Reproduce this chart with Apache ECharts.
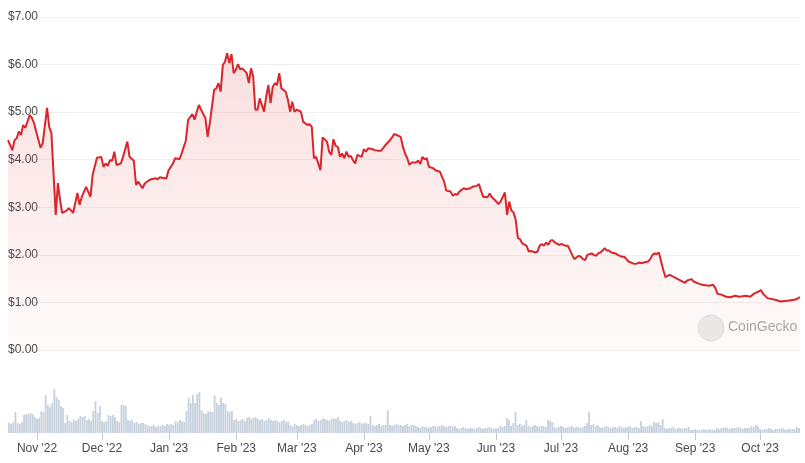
<!DOCTYPE html>
<html>
<head>
<meta charset="utf-8">
<script src="https://cdn.jsdelivr.net/npm/echarts@6/dist/echarts.min.js"></script>
<style>
  html, body { margin: 0; padding: 0; background: #fff; }
  #chart { width: 805px; height: 463px; }
</style>
</head>
<body>
<div id="chart"></div>
<script>
// first day of the chart, every other date is counted from here
const startYear = 2022, startMonth = 9, startDay = 19; // 19 Oct 2022

// price readings: day number from start -> price in USD
const priceDays = [
  0, 2, 3, 4, 5, 6, 7, 8, 10, 11, 12, 13, 15, 16, 18, 19, 20, 22, 23, 24,
  25, 27, 28, 29, 30, 32, 33, 34, 36, 38, 39, 41, 43, 44, 45, 46, 47, 48, 49, 50,
  52, 53, 55, 56, 58, 59, 60, 61, 62, 63, 65, 66, 68, 69, 70, 72, 73, 74, 76, 77,
  79, 80, 82, 83, 85, 86, 87, 88, 89, 91, 92, 93, 95, 96, 97, 98, 99, 100, 101, 102,
  103, 104, 105, 106, 107, 108, 110, 111, 112, 113, 114, 115, 116, 118, 119, 120, 121, 122, 123, 124,
  125, 126, 128, 129, 130, 131, 132, 133, 135, 136, 138, 139, 140, 141, 142, 144, 145, 147, 148, 149,
  150, 151, 152, 153, 154, 155, 156, 157, 158, 159, 160, 161, 163, 164, 165, 166, 168, 169, 171, 172,
  174, 176, 177, 178, 180, 181, 182, 183, 184, 185, 186, 188, 189, 190, 191, 192, 193, 194, 196, 197,
  199, 201, 202, 204, 205, 206, 207, 208, 210, 211, 213, 214, 216, 217, 218, 219, 221, 222, 223, 224,
  226, 227, 229, 230, 231, 232, 233, 234, 235, 236, 237, 239, 240, 241, 243, 244, 245, 246, 247, 248,
  249, 250, 251, 252, 254, 255, 256, 257, 258, 259, 260, 261, 263, 264, 265, 266, 267, 269, 270, 271,
  272, 273, 274, 275, 276, 277, 278, 280, 281, 282, 283, 284, 285, 286, 288, 289, 290, 291, 292, 293,
  295, 296, 297, 298, 299, 300, 301, 302, 303, 304, 305, 307, 310, 312, 313, 315, 316, 318, 320, 323,
  325, 326, 327, 329, 331, 333, 335, 337, 340, 342, 344, 346, 347, 348, 350, 353, 354, 356, 358, 360,
  363, 365
];
const prices = [
  4.41, 4.20, 4.41, 4.45, 4.59, 4.52, 4.73, 4.67, 4.94, 4.88, 4.77, 4.59, 4.25, 4.35, 5.09, 4.69, 4.56, 2.84, 3.51, 3.15,
  2.88, 2.93, 2.98, 2.94, 2.88, 3.30, 3.05, 3.22, 3.43, 3.22, 3.68, 4.04, 4.06, 3.85, 3.92, 3.87, 3.99, 3.98, 4.17, 3.89,
  3.92, 4.06, 4.38, 4.06, 3.98, 3.47, 3.54, 3.47, 3.40, 3.50, 3.57, 3.59, 3.61, 3.59, 3.63, 3.61, 3.61, 3.78, 3.92, 4.03,
  4.01, 4.13, 4.41, 4.84, 4.96, 4.84, 5.01, 5.15, 5.05, 4.87, 4.48, 4.77, 5.47, 5.50, 5.61, 5.43, 5.99, 6.06, 6.24, 6.03,
  6.22, 5.82, 5.89, 6.01, 5.90, 5.92, 5.82, 5.61, 5.92, 5.75, 5.05, 5.05, 5.29, 5.01, 5.33, 5.57, 5.19, 5.53, 5.61, 5.57,
  5.82, 5.50, 5.43, 5.26, 5.01, 5.22, 5.01, 5.05, 5.01, 4.80, 4.73, 4.75, 4.69, 4.03, 4.06, 3.78, 4.47, 4.38, 4.17, 4.10,
  4.43, 4.29, 4.27, 4.06, 4.13, 4.03, 4.17, 4.06, 4.08, 3.99, 3.92, 4.10, 4.06, 4.22, 4.17, 4.24, 4.22, 4.20, 4.19, 4.19,
  4.31, 4.41, 4.47, 4.54, 4.50, 4.48, 4.27, 4.13, 4.03, 3.89, 3.94, 3.94, 3.98, 3.91, 4.06, 4.01, 4.03, 3.85, 3.82, 3.78,
  3.75, 3.54, 3.35, 3.33, 3.24, 3.28, 3.26, 3.33, 3.40, 3.38, 3.40, 3.43, 3.45, 3.49, 3.35, 3.22, 3.21, 3.29, 3.21, 3.17,
  3.07, 3.12, 3.31, 2.84, 3.12, 2.93, 2.89, 2.73, 2.35, 2.33, 2.24, 2.19, 2.07, 2.08, 2.05, 2.07, 2.19, 2.23, 2.19, 2.26,
  2.21, 2.30, 2.31, 2.26, 2.21, 2.23, 2.21, 2.19, 2.19, 2.10, 2.00, 1.91, 1.98, 1.96, 1.91, 1.89, 2.00, 2.03, 2.00, 1.98,
  2.03, 2.05, 2.09, 2.14, 2.09, 2.09, 2.05, 2.03, 2.00, 1.98, 1.96, 1.96, 1.91, 1.86, 1.82, 1.81, 1.82, 1.84, 1.82, 1.84,
  1.86, 1.91, 2.00, 2.03, 2.02, 2.05, 1.86, 1.68, 1.53, 1.56, 1.58, 1.53, 1.46, 1.41, 1.46, 1.49, 1.44, 1.40, 1.37, 1.35,
  1.37, 1.30, 1.18, 1.16, 1.12, 1.11, 1.14, 1.12, 1.14, 1.12, 1.19, 1.23, 1.26, 1.18, 1.09, 1.06, 1.05, 1.02, 1.03, 1.04,
  1.06, 1.11
];

// daily volume (M USD), one bar per day from day 0 to day 365
const volumes = [
  10, 9, 11, 21, 10, 9, 11, 18, 19, 19,
  20, 19, 16, 14, 15, 22, 21, 38, 28, 26,
  30, 44, 36, 33, 27, 25, 10, 18, 12, 11,
  13, 12, 14, 17, 16, 17, 13, 14, 12, 22,
  32, 20, 27, 12, 11, 12, 18, 17, 18, 16,
  12, 11, 28, 28, 27, 13, 12, 13, 10, 11,
  9, 10, 10, 9, 8, 7, 7, 8, 6, 7,
  7, 8, 7, 9, 8, 9, 8, 12, 11, 13,
  12, 11, 22, 35, 30, 38, 30, 39, 41, 23,
  20, 19, 21, 22, 21, 38, 30, 28, 35, 30,
  29, 22, 21, 22, 13, 14, 12, 13, 14, 12,
  15, 16, 14, 15, 16, 14, 13, 14, 12, 13,
  15, 13, 12, 13, 12, 11, 12, 13, 11, 12,
  8, 7, 9, 8, 7, 8, 9, 8, 7, 8,
  9, 13, 14, 12, 13, 15, 14, 13, 12, 14,
  15, 14, 16, 12, 11, 12, 13, 11, 12, 10,
  9, 10, 11, 9, 10, 10, 9, 17, 8, 7,
  8, 9, 7, 8, 8, 23, 8, 7, 8, 9,
  8, 8, 7, 8, 9, 7, 8, 8, 7, 6,
  5, 7, 6, 6, 5, 6, 7, 7, 6, 7,
  8, 7, 6, 7, 7, 6, 7, 5, 4, 5,
  6, 5, 4, 5, 5, 4, 5, 6, 5, 4,
  5, 5, 6, 5, 4, 5, 5, 7, 6, 7,
  15, 13, 7, 10, 21, 8, 9, 7, 8, 13,
  7, 6, 7, 8, 7, 6, 7, 7, 6, 13,
  12, 11, 6, 5, 6, 7, 6, 5, 6, 6,
  7, 5, 6, 6, 5, 6, 7, 10, 21, 8,
  9, 7, 8, 6, 5, 6, 7, 6, 5, 6,
  6, 5, 7, 6, 5, 6, 6, 7, 5, 6,
  6, 5, 12, 7, 6, 7, 8, 7, 11, 10,
  11, 8, 14, 5, 4, 5, 5, 6, 4, 5,
  5, 4, 5, 5, 6, 3, 3, 4, 3, 3,
  3, 4, 3, 3, 4, 3, 3, 5, 4, 5,
  5, 6, 5, 4, 5, 5, 5, 6, 5, 4,
  5, 5, 5, 7, 6, 8, 7, 4, 3, 4,
  4, 5, 4, 3, 4, 4, 4, 5, 4, 3,
  4, 4, 4, 4, 6, 5
];

// tick labels
const monthNames = ['Jan', 'Feb', 'Mar', 'Apr', 'May', 'Jun', 'Jul', 'Aug', 'Sep', 'Oct', 'Nov', 'Dec'];
const priceTicks = [0, 1, 2, 3, 4, 5, 6, 7];

function dayToTime(d) {
  return new Date(startYear, startMonth, startDay + d).getTime();
}

const priceData = priceDays.map((d, i) => [dayToTime(d), prices[i]]);
const volumeData = volumes.map((v, i) => [dayToTime(i), v]);
const xMin = dayToTime(0);
const xMax = dayToTime(volumes.length - 1);

const chart = echarts.init(document.getElementById('chart'));
const font = "'Liberation Sans', Arial, sans-serif";

chart.setOption({
  animation: false,
  textStyle: { fontFamily: font },
  grid: [
    { left: 8, right: 5, top: 17, height: 333 },   // price
    { left: 8, right: 5, bottom: 30, height: 50 }  // volume
  ],
  xAxis: [
    {
      type: 'time', gridIndex: 0, min: xMin, max: xMax,
      axisLine: { show: false }, axisTick: { show: false },
      axisLabel: { show: false }, splitLine: { show: false }
    },
    {
      type: 'time', gridIndex: 1, min: xMin, max: xMax,
      minInterval: 28 * 86400000, maxInterval: 31 * 86400000,
      axisLine: { show: false },
      axisTick: { show: true, length: 7, lineStyle: { color: '#c8ccd2' } },
      splitLine: { show: false },
      axisLabel: {
        color: '#4a4a4a', fontSize: 12, margin: 10, fontFamily: font,
        showMinLabel: false, showMaxLabel: false,
        formatter: function (v) {
          const d = new Date(v);
          return monthNames[d.getMonth()] + " '" + String(d.getFullYear()).slice(2);
        }
      }
    }
  ],
  yAxis: [
    {
      type: 'value', gridIndex: 0,
      min: priceTicks[0], max: priceTicks[priceTicks.length - 1], interval: 1,
      axisLine: { show: false }, axisTick: { show: false },
      splitLine: { lineStyle: { color: '#f0f0f0', width: 1 } },
      axisLabel: {
        inside: true, verticalAlign: 'middle', margin: 0,
        color: '#4a4a4a', fontSize: 12, fontFamily: font, padding: [0, 0, 8, 0],
        formatter: v => '$' + v.toFixed(2)
      }
    },
    {
      type: 'value', gridIndex: 1, min: 0, max: 50,
      axisLine: { show: false }, axisTick: { show: false },
      axisLabel: { show: false }, splitLine: { show: false }
    }
  ],
  series: [
    {
      type: 'line', xAxisIndex: 0, yAxisIndex: 0,
      data: priceData, symbol: 'none',
      lineStyle: { color: '#d8262c', width: 2 },
      areaStyle: {
        color: new echarts.graphic.LinearGradient(0, 0, 0, 1, [
          { offset: 0, color: 'rgba(230, 70, 70, 0.25)' },
          { offset: 1, color: 'rgba(230, 70, 70, 0.03)' }
        ])
      }
    },
    {
      type: 'bar', xAxisIndex: 1, yAxisIndex: 1,
      data: volumeData, barWidth: 1.8,
      itemStyle: { color: '#c7d0dd' }
    }
  ],
  // CoinGecko watermark
  graphic: [
    {
      type: 'circle', shape: { cx: 711, cy: 328, r: 13 },
      style: { fill: '#ececec', stroke: '#dedede', lineWidth: 1 }
    },
    {
      type: 'text', left: 728, top: 320,
      style: { text: 'CoinGecko', fill: '#a9a9a9', font: '14px ' + font }
    }
  ]
});
</script>
</body>
</html>
